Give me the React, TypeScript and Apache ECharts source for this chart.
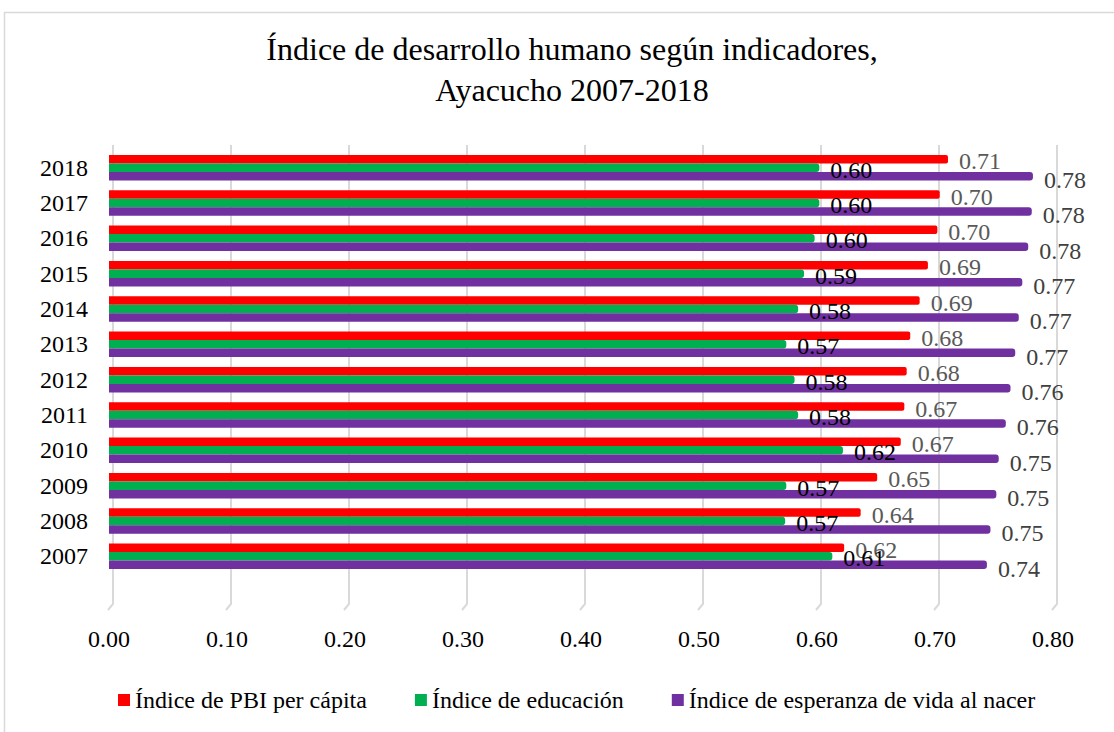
import React, { useEffect, useRef } from "react";
import * as echarts from "echarts";

const years = ["2007", "2008", "2009", "2010", "2011", "2012", "2013", "2014", "2015", "2016", "2017", "2018"];
const pbi = [0.623, 0.637, 0.651, 0.671, 0.674, 0.676, 0.679, 0.687, 0.694, 0.702, 0.704, 0.711];
const educacion = [0.613, 0.573, 0.574, 0.622, 0.584, 0.581, 0.574, 0.584, 0.589, 0.598, 0.602, 0.602];
const esperanza = [0.744, 0.747, 0.752, 0.754, 0.76, 0.764, 0.768, 0.771, 0.774, 0.779, 0.782, 0.783];
const xTicks = [0, 0.1, 0.2, 0.3, 0.4, 0.5, 0.6, 0.7, 0.8];
const names = ["Índice de PBI per cápita", "Índice de educación", "Índice de esperanza de vida al nacer"];

const FONT = "Liberation Serif";

export default function App() {
  const ref = useRef<HTMLDivElement>(null);
  useEffect(() => {
    const chart = echarts.init(ref.current!, null, { renderer: "svg" });
    const lbl = (color: string, dy: number) => ({
      show: true,
      position: "right" as const,
      distance: 11,
      offset: [0, dy],
      color,
      fontFamily: FONT,
      fontSize: 24,
      formatter: (p: any) => Number(p.value).toFixed(2),
    });
    chart.setOption({
      animation: false,
      backgroundColor: "#ffffff",
      textStyle: { fontFamily: FONT },
      title: {
        text: "Índice de desarrollo humano según indicadores,\nAyacucho 2007-2018",
        left: 567,
        textAlign: "center",
        top: 23,
        textStyle: { fontFamily: FONT, fontSize: 32, fontWeight: "normal", color: "#000", lineHeight: 41 },
      },
      legend: {
        data: names,
        left: 113,
        top: 683,
        itemWidth: 12,
        itemHeight: 12,
        itemGap: 48,
        icon: "rect",
        textStyle: { fontFamily: FONT, fontSize: 24, color: "#000" },
      },
      grid: { left: 109, right: 61, top: 150, bottom: 158, containLabel: false },
      xAxis: {
        type: "value",
        min: 0,
        max: 0.8,
        interval: 0.1,
        axisLine: { show: false },
        axisTick: { show: false },
        splitLine: { show: false },
        axisLabel: {
          fontFamily: FONT,
          fontSize: 24,
          color: "#000",
          margin: 53,
          formatter: (v: number) => v.toFixed(2),
        },
      },
      yAxis: {
        type: "category",
        data: years,
        axisLine: { show: false },
        axisTick: { show: false },
        axisLabel: { fontFamily: FONT, fontSize: 24, color: "#000", margin: 21 },
      },
      series: [
        {
          name: names[0],
          type: "bar",
          data: pbi,
          barGap: "0%",
          barCategoryGap: "28%",
          itemStyle: { color: "#ff0000", borderRadius: [0, 2, 2, 0] },
          label: lbl("#595959", 2),
        },
        {
          name: names[1],
          type: "bar",
          data: educacion,
          barGap: "0%",
          barCategoryGap: "28%",
          itemStyle: { color: "#00b050", borderRadius: [0, 3, 3, 0] },
          label: lbl("#000000", 2),
        },
        {
          name: names[2],
          type: "bar",
          data: esperanza,
          barGap: "0%",
          barCategoryGap: "28%",
          itemStyle: { color: "#7030a0", borderRadius: [0, 3, 3, 0] },
          label: lbl("#404040", 4),
        },
      ],
    });
    const gridLines = xTicks.map((t) => {
      const x = chart.convertToPixel({ xAxisIndex: 0 }, t) as number;
      return {
        type: "polyline",
        z: -10,
        silent: true,
        shape: { points: [[x + 4, 145], [x + 4, 604], [x - 1, 610]] },
        style: { stroke: "#d9d9d9", lineWidth: 2, fill: "none" },
      };
    });
    chart.setOption({
      graphic: [
        {
          type: "rect",
          z: -20,
          silent: true,
          shape: { x: 4.5, y: 12.5, width: 1130, height: 740 },
          style: { fill: "none", stroke: "#d9d9d9", lineWidth: 1.5 },
        },
        ...gridLines,
      ],
    });
    return () => chart.dispose();
  }, []);
  return (
    <div style={{ position: "absolute", left: 0, top: 0, width: 1114, height: 732, background: "#fff" }}>
      <div ref={ref} style={{ width: 1114, height: 732 }} />
    </div>
  );
}
